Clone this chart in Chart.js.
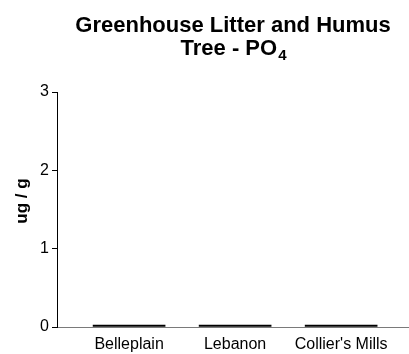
<!DOCTYPE html>
<html>
<head>
<meta charset="utf-8">
<title>Greenhouse Litter and Humus Tree - PO4</title>
<script src="https://cdn.jsdelivr.net/npm/chart.js@4.4.1/dist/chart.umd.min.js"></script>
<style>
    html, body { margin: 0; padding: 0; background: #fff; }
    #wrap { width: 409px; height: 354px; }
</style>
</head>
<body>
<div id="wrap"><canvas id="po4-chart" width="409" height="354"></canvas></div>
<script>
    // Sites and measured PO4 (ug / g)
    const sites = ['Belleplain', 'Lebanon', "Collier's Mills"];
    const po4Values = [0, 0, 0];
    const yTicks = [0, 1, 2, 3];

    const FONT = "Arial, 'Liberation Sans', sans-serif";

    /**
     * Title with subscript and rotated y label
     */
    const labelsPlugin = {
        id: 'labels',
        afterDraw(chart) {
            const ctx = chart.ctx;
            const area = chart.chartArea;
            const cx = (area.left + area.right) / 2;

            ctx.save();
            ctx.fillStyle = '#000';
            ctx.textBaseline = 'alphabetic';

            // first title line
            ctx.font = 'bold 22px ' + FONT;
            ctx.textAlign = 'center';
            ctx.fillText('Greenhouse Litter and Humus', cx, 32);

            // second line: "Tree - PO" with a subscript 4
            const main = 'Tree - PO';
            const sub = '4';
            ctx.font = 'bold 22px ' + FONT;
            const wMain = ctx.measureText(main).width;
            ctx.font = 'bold 15px ' + FONT;
            const wSub = ctx.measureText(sub).width;
            const x0 = cx - (wMain + wSub) / 2;
            ctx.textAlign = 'left';
            ctx.font = 'bold 22px ' + FONT;
            ctx.fillText(main, x0, 55);
            ctx.font = 'bold 15px ' + FONT;
            ctx.fillText(sub, x0 + wMain + 1, 60);

            // y axis label
            ctx.translate(22, 201);
            ctx.rotate(-Math.PI / 2);
            ctx.font = 'bold 17px ' + FONT;
            ctx.textAlign = 'center';
            ctx.textBaseline = 'middle';
            ctx.fillText('ug / g', 0, 0);
            ctx.restore();
        }
    };

    const canvas = document.getElementById('po4-chart');

    new Chart(canvas.getContext('2d'), {
        type: 'bar',
        data: {
            datasets: [{
                data: po4Values.map((v, i) => ({ x: i + 1, y: v })),
                backgroundColor: '#000',
                borderWidth: 0,
                barThickness: 72,
                minBarLength: 2
            }]
        },
        options: {
            responsive: false,
            animation: false,
            layout: {
                padding: { top: 92, right: 0, bottom: 0, left: 0 }
            },
            plugins: {
                legend: { display: false },
                tooltip: { enabled: false }
            },
            scales: {
                x: {
                    type: 'linear',
                    min: 0.32,
                    max: 3.64,
                    offset: false,
                    afterFit(scale) { scale.height = 27; },
                    afterBuildTicks(scale) {
                        scale.ticks = sites.map((s, i) => ({ value: i + 1 }));
                    },
                    grid: { display: false, drawTicks: false },
                    border: { display: true, color: '#7a7a7a', width: 1 },
                    ticks: {
                        color: '#000',
                        padding: 8,
                        maxRotation: 0,
                        autoSkip: false,
                        font: { family: FONT, size: 16 },
                        callback: (value) => sites[value - 1] || ''
                    }
                },
                y: {
                    min: 0,
                    max: 3,
                    afterFit(scale) { scale.width = 57; },
                    afterBuildTicks(scale) {
                        scale.ticks = yTicks.map(v => ({ value: v }));
                    },
                    grid: {
                        display: true,
                        drawOnChartArea: false,
                        drawTicks: true,
                        tickLength: 5,
                        color: '#000',
                        lineWidth: 1
                    },
                    border: { display: true, color: '#000', width: 1 },
                    ticks: {
                        color: '#000',
                        padding: 3,
                        font: { family: FONT, size: 16 }
                    }
                }
            }
        },
        plugins: [labelsPlugin]
    });
</script>
</body>
</html>
